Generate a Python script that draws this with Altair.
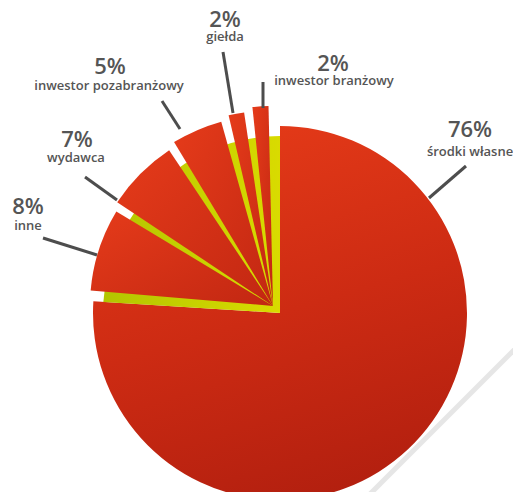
import math
import altair as alt
import pandas as pd

# ---------------- data ----------------
categories = ["środki własne", "inne", "wydawca", "inwestor pozabranżowy", "giełda", "inwestor branżowy"]
values = [76, 8, 7, 5, 2, 2]
pct_labels = ["76%", "8%", "7%", "5%", "2%", "2%"]
slice_order = [0, 1, 2, 3, 4, 5]

df = pd.DataFrame({"category": categories, "value": values, "pct": pct_labels, "order": slice_order})

# ---------------- layout ----------------
W, H = 466, 358
CX, CY = W / 2, H / 2
TEXT = "#555555"
LINE = "#4d4d4d"

# label anchors (offsets from pie centre): pct, name
LABELS = {
    "środki własne": ((190, -176), (190, -157)),
    "inne": ((-252, -99), (-252, -83)),
    "wydawca": ((-203, -166), (-204, -151)),
    "inwestor pozabranżowy": ((-170, -239), (-171, -223)),
    "giełda": ((-55, -286), (-55, -272)),
    "inwestor branżowy": ((53, -242), (54, -228)),
}
LEADERS = {
    "środki własne": ((149, -115), (186, -147)),
    "inne": ((-183, -58), (-237, -75)),
    "wydawca": ((-163, -113), (-195, -136)),
    "inwestor pozabranżowy": ((-100, -184), (-118, -212)),
    "giełda": ((-47, -200), (-57, -261)),
    "inwestor branżowy": ((-17, -205), (-17, -231)),
}


def lin(stops, x1, y1, x2, y2):
    return alt.LinearGradient(
        gradient="linear",
        stops=[alt.GradientStop(color=c, offset=o) for o, c in stops],
        x1=x1, y1=y1, x2=x2, y2=y2,
    )


theta_scale = alt.Scale(domain=[0, 100], range=[0, 2 * math.pi])

base = alt.Chart(df).transform_window(
    end="sum(value)", sort=[alt.SortField("order")]
).transform_calculate(start="datum.end - datum.value")

deco = alt.Chart(pd.DataFrame({"k": [0]})).mark_rule(color="#e6e6e6", strokeWidth=5).encode(
    x=alt.value(W + 10), y=alt.value(CY + 28), x2=alt.value(W - 163), y2=alt.value(CY + 201)
)

big = base.transform_filter("datum.order == 0").mark_arc(
    radius=187,
    color=lin([(0, "#e43a18"), (0.5, "#cd2b13"), (1, "#b21f0f")], 0.35, 0, 0.65, 1),
).encode(theta=alt.Theta("start:Q", scale=theta_scale), theta2="end:Q")

lime = base.transform_filter("datum.order > 0").transform_aggregate(
    s="min(start)", e="max(end)"
).mark_arc(
    radius=177,
    color=lin([(0, "#b3c500"), (1, "#d9db00")], 0, 0.5, 1, 0.5),
).encode(theta=alt.Theta("s:Q", scale=theta_scale), theta2="e:Q")

small = base.transform_filter("datum.order > 0").mark_arc(
    padAngle=0.045, xOffset=-7, yOffset=-7,
    color=lin([(0, "#e53b1a"), (1, "#c22712")], 0, 0, 1, 1),
).encode(
    theta=alt.Theta("start:Q", scale=theta_scale),
    theta2="end:Q",
    radius=alt.Radius("order:Q", scale=alt.Scale(type="linear", domain=[1, 5], range=[183, 200], zero=False)),
    radius2=alt.value(0),
)

layers = [deco, big, lime, small]

for cat in categories:
    (a, b) = LEADERS[cat]
    layers.append(
        base.transform_filter(alt.datum.category == cat).mark_rule(color=LINE, strokeWidth=3).encode(
            x=alt.value(CX + a[0]), y=alt.value(CY + a[1]),
            x2=alt.value(CX + b[0]), y2=alt.value(CY + b[1]),
        )
    )
    (p, n) = LABELS[cat]
    layers.append(
        base.transform_filter(alt.datum.category == cat).mark_text(
            font="Open Sans", fontSize=22, fontWeight=600, color=TEXT, align="center", baseline="alphabetic"
        ).encode(x=alt.value(CX + p[0]), y=alt.value(CY + p[1]), text="pct:N")
    )
    layers.append(
        base.transform_filter(alt.datum.category == cat).mark_text(
            font="Open Sans", fontSize=13, fontWeight=600, color=TEXT, align="center", baseline="alphabetic"
        ).encode(x=alt.value(CX + n[0]), y=alt.value(CY + n[1]), text="category:N")
    )

chart = alt.layer(*layers).properties(
    width=W, height=H,
    padding={"left": 39, "top": 126, "right": 0, "bottom": 0},
    autosize=alt.AutoSizeParams(type="none"),
).configure_view(stroke=None)

chart.save("out.html", embed_options={"renderer": "svg", "actions": False})
